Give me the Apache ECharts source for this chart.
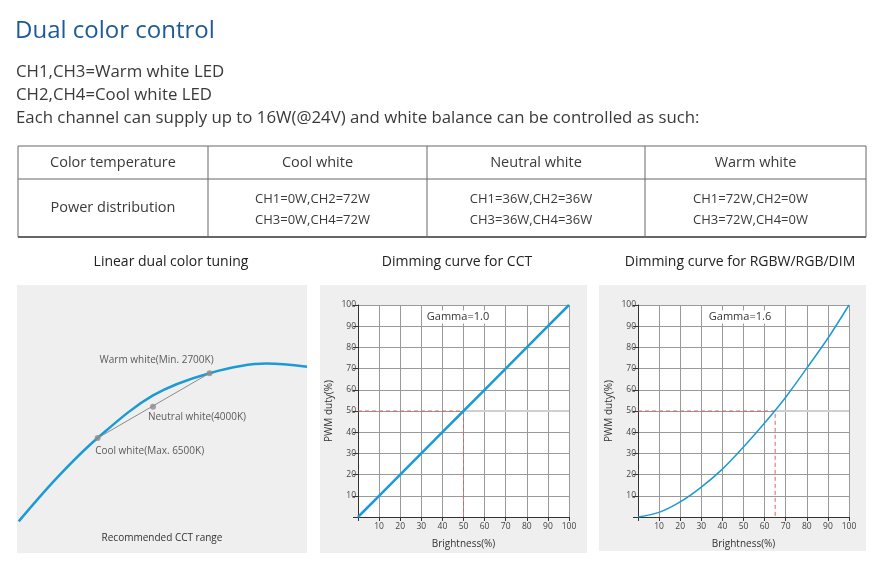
<!DOCTYPE html>
<html>
<head>
<meta charset="utf-8">
<title>Dual color control</title>
<script src="https://cdn.jsdelivr.net/npm/echarts@6/dist/echarts.min.js"></script>
<style>
  html, body { margin: 0; padding: 0; background: #fff; }
  #main { width: 878px; height: 568px; }
</style>
</head>
<body>
<div id="main"></div>
<script>
// ---- data ----
var introLines = [
  'CH1,CH3=Warm white LED',
  'CH2,CH4=Cool white LED',
  'Each channel can supply up to 16W(@24V) and white balance can be controlled as such:'
];
var tableHead = ['Color temperature', 'Cool white', 'Neutral white', 'Warm white'];
var rowLabel = 'Power distribution';
var powerLine1 = ['CH1=0W,CH2=72W', 'CH1=36W,CH2=36W', 'CH1=72W,CH2=0W'];
var powerLine2 = ['CH3=0W,CH4=72W', 'CH3=36W,CH4=36W', 'CH3=72W,CH4=0W'];

// linear dual color tuning (abstract 0-100 units of the panel)
var tuneX = [0.6, 14, 27.8, 46.9, 66.4, 86, 100];
var tuneY = [11.8, 28.3, 42.9, 58.8, 67.1, 70.7, 69.5];
var cctNames = ['Cool white(Max. 6500K)', 'Neutral white(4000K)', 'Warm white(Min. 2700K)'];
var cctX = [27.8, 46.9, 66.4];
var cctY = [42.9, 54.6, 67.1];

// dimming curves
var brightness = [0, 10, 20, 30, 40, 50, 60, 70, 80, 90, 100];
var dutyCCT = [0, 10, 20, 30, 40, 50, 60, 70, 80, 90, 100];
var dutyRGB = [0, 2.2, 7.1, 14.1, 22.6, 33, 44.3, 56.5, 70.2, 84.3, 100];
var halfCCT = 50;   // brightness at 50% duty, gamma 1.0
var halfRGB = 65;   // brightness at 50% duty, gamma 1.6

var FONT = 'Open Sans';
var BLUE = '#1b9ad6';

function pairs(xs, ys) {
  return xs.map(function (x, i) { return [x, ys[i]]; });
}

var chart = echarts.init(document.getElementById('main'));

// ---- static graphics: heading, text, table, panel backgrounds ----
var g = [];
g.push({ type: 'text', left: 15, top: 19, style: { text: 'Dual color control', font: '24px ' + FONT, fill: '#1d5b97' } });
introLines.forEach(function (t, i) {
  g.push({ type: 'text', left: 16, top: 64 + i * 23, style: { text: t, font: '16.8px ' + FONT, fill: '#3a3a3a' } });
});

var colX = [18, 208, 427, 645, 866];
var rowY = [146, 179, 237];
rowY.forEach(function (y, i) {
  g.push({ type: 'line', shape: { x1: colX[0], y1: y, x2: colX[4], y2: y },
    style: { stroke: '#666', lineWidth: i === 2 ? 2 : 1 } });
});
colX.forEach(function (x) {
  g.push({ type: 'line', shape: { x1: x, y1: rowY[0], x2: x, y2: rowY[2] }, style: { stroke: '#666', lineWidth: 1 } });
});
tableHead.forEach(function (t, i) {
  g.push({ type: 'text', x: (colX[i] + colX[i + 1]) / 2, y: 163,
    style: { text: t, font: '14.5px ' + FONT, fill: '#3a3a3a', align: 'center', verticalAlign: 'middle' } });
});
g.push({ type: 'text', x: (colX[0] + colX[1]) / 2, y: 208,
  style: { text: rowLabel, font: '14.5px ' + FONT, fill: '#3a3a3a', align: 'center', verticalAlign: 'middle' } });
powerLine1.forEach(function (t, i) {
  var cx = (colX[i + 1] + colX[i + 2]) / 2 - 5;
  g.push({ type: 'text', x: cx, y: 199, style: { text: t, font: '13px ' + FONT, fill: '#3a3a3a', align: 'center', verticalAlign: 'middle' } });
  g.push({ type: 'text', x: cx, y: 220, style: { text: powerLine2[i], font: '13px ' + FONT, fill: '#3a3a3a', align: 'center', verticalAlign: 'middle' } });
});

// panels
[[17, 285, 290, 268], [320, 285, 267, 268], [599, 285, 267, 266]].forEach(function (r) {
  g.push({ type: 'rect', z: -10, shape: { x: r[0], y: r[1], width: r[2], height: r[3] }, style: { fill: '#efefef' } });
});
[['Linear dual color tuning', 171], ['Dimming curve for CCT', 457], ['Dimming curve for RGBW/RGB/DIM', 740]].forEach(function (t) {
  g.push({ type: 'text', x: t[1], y: 262, style: { text: t[0], font: '14px ' + FONT, fill: '#222', align: 'center', verticalAlign: 'middle' } });
});
g.push({ type: 'text', x: 162, y: 538, style: { text: 'Recommended CCT range', font: '10px ' + FONT, fill: '#333', align: 'center', verticalAlign: 'middle' } });
g.push({ type: 'text', x: 458, y: 317, z: 50, style: { text: 'Gamma=1.0', font: '11px ' + FONT, fill: '#333', align: 'center', verticalAlign: 'middle', backgroundColor: '#fff', padding: [1, 2] } });
g.push({ type: 'text', x: 740, y: 317, z: 50, style: { text: 'Gamma=1.6', font: '11px ' + FONT, fill: '#333', align: 'center', verticalAlign: 'middle', backgroundColor: '#fff', padding: [1, 2] } });

// ---- axes ----
function dimX(gi) {
  return {
    type: 'value', gridIndex: gi, min: 0, max: 100, interval: 10,
    name: 'Brightness(%)', nameLocation: 'middle', nameGap: 22,
    nameTextStyle: { fontFamily: FONT, fontSize: 10, color: '#333' },
    axisLine: { show: true, onZero: false, lineStyle: { color: '#333', width: 1 } },
    axisTick: { show: true, length: 4, lineStyle: { color: '#333' } },
    axisLabel: { fontFamily: FONT, fontSize: 8.5, color: '#444', margin: 5,
      formatter: function (v) { return v === 0 ? '' : v; } },
    splitLine: { show: true, lineStyle: { color: '#9a9a9a', width: 1 } }
  };
}
function dimY(gi) {
  return {
    type: 'value', gridIndex: gi, min: 0, max: 100, interval: 10,
    name: 'PWM duty(%)', nameLocation: 'middle', nameGap: 24,
    nameTextStyle: { fontFamily: FONT, fontSize: 10, color: '#333' },
    axisLine: { show: true, onZero: false, lineStyle: { color: '#333', width: 1 } },
    axisTick: { show: true, length: 5, lineStyle: { color: '#333' } },
    axisLabel: { fontFamily: FONT, fontSize: 8.5, color: '#444', margin: 2,
      formatter: function (v) { return v === 0 ? '' : v; } },
    splitLine: { show: true, lineStyle: { color: '#9a9a9a', width: 1 } }
  };
}

function guide(xi, half) {
  return [
    { type: 'line', xAxisIndex: xi, yAxisIndex: xi, data: [[half, 50], [100, 50]], symbol: 'none', silent: true,
      lineStyle: { color: '#cfcfcf', width: 2 }, z: 3 },
    { type: 'line', xAxisIndex: xi, yAxisIndex: xi, data: [[0, 50], [half, 50], [half, 0]], symbol: 'none', silent: true,
      lineStyle: { color: '#e0605e', width: 1, type: [4, 3] }, z: 4 }
  ];
}

// per-point label placement for the three CCT points
var cctLabels = [
  { position: 'bottom', offset: [52, 0] },
  { position: 'bottom', offset: [44, -3] },
  { position: 'top', offset: [-53, 0] }
];

var option = {
  animation: false,
  backgroundColor: '#fff',
  textStyle: { fontFamily: FONT },
  graphic: g,
  grid: [
    { left: 17, top: 285, width: 290, height: 268 },
    { left: 358, top: 305, width: 211, height: 212, show: true, backgroundColor: '#fff', borderWidth: 0 },
    { left: 638, top: 305, width: 211, height: 212, show: true, backgroundColor: '#fff', borderWidth: 0 }
  ],
  xAxis: [
    { type: 'value', gridIndex: 0, min: 0, max: 100, show: false },
    dimX(1), dimX(2)
  ],
  yAxis: [
    { type: 'value', gridIndex: 0, min: 0, max: 100, show: false },
    dimY(1), dimY(2)
  ],
  series: [
    { type: 'line', xAxisIndex: 0, yAxisIndex: 0, data: pairs(tuneX, tuneY), smooth: 0.35, symbol: 'none',
      lineStyle: { color: BLUE, width: 2.5 }, z: 3 },
    { type: 'line', xAxisIndex: 0, yAxisIndex: 0, data: [[cctX[0], cctY[0]], [cctX[2], cctY[2]]], symbol: 'none',
      lineStyle: { color: '#8c8c8c', width: 1 }, z: 4 },
    { type: 'scatter', xAxisIndex: 0, yAxisIndex: 0, symbolSize: 6, itemStyle: { color: '#8c8c8c' }, z: 5,
      data: cctX.map(function (x, i) {
        return { value: [x, cctY[i]], label: cctLabels[i] };
      }),
      label: { show: true, fontFamily: FONT, fontSize: 10, color: '#333', distance: 5,
        formatter: function (p) { return cctNames[p.dataIndex]; } }
    },
    { type: 'line', xAxisIndex: 1, yAxisIndex: 1, data: pairs(brightness, dutyCCT), symbol: 'none',
      lineStyle: { color: BLUE, width: 2.5 }, z: 6 }
  ].concat(guide(1, halfCCT)).concat(guide(2, halfRGB)).concat([
    { type: 'line', xAxisIndex: 2, yAxisIndex: 2, data: pairs(brightness, dutyRGB), smooth: 0.3, symbol: 'none',
      lineStyle: { color: BLUE, width: 1.5 }, z: 6 }
  ])
};
chart.setOption(option);
</script>
</body>
</html>
